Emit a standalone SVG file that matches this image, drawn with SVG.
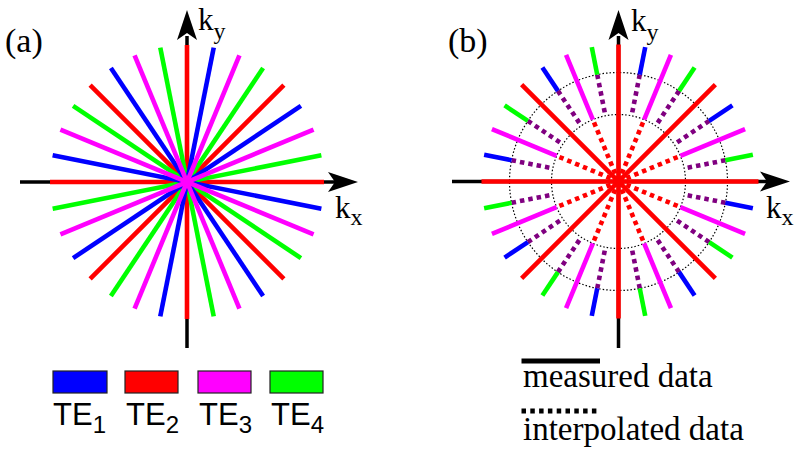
<svg xmlns="http://www.w3.org/2000/svg" width="800" height="459" viewBox="0 0 800 459">
<defs>
<style>
.ax{stroke:#000;stroke-width:3.5;fill:none}
.s{stroke-width:4.6;fill:none;stroke-linecap:butt}
.r{stroke:#ff0000}
.g{stroke:#00ff00}
.m{stroke:#ff00ff}
.b{stroke:#0000ff}
.pd{stroke:#800080;stroke-dasharray:4.5 4}
.rd{stroke:#ff0000;stroke-dasharray:4.5 4}
.circ{fill:none;stroke:#000;stroke-width:1.2;stroke-dasharray:1.5 2}
.serif{font-family:"Liberation Serif","Times New Roman",serif;fill:#000}
.sans{font-family:"Liberation Sans",Arial,sans-serif;fill:#000}
.key{stroke:#222;stroke-width:1.2}
</style>
<path id="arrR" d="M0,0 L-30,-10 L-23,0 L-30,10 Z" fill="#000"/>
</defs>

<!-- Panel (a) -->
<g id="panel-a">
<g id="axes-a">
<line class="ax" x1="20" y1="182" x2="340" y2="182"/>
<line class="ax" x1="187" y1="348" x2="187" y2="36"/>
<use href="#arrR" transform="translate(358,182)"/>
<use href="#arrR" transform="translate(187,10) rotate(-90)"/>
</g>
<g id="spokes-a" transform="translate(187,182)">
<line class="s r" x1="-137" x2="137" transform="rotate(0)"/>
<line class="s r" x1="-137" x2="137" transform="rotate(-45)"/>
<line class="s r" x1="-137" x2="137" transform="rotate(-90)"/>
<line class="s r" x1="-137" x2="137" transform="rotate(-135)"/>
<line class="s g" x1="-137" x2="137" transform="rotate(-11.25)"/>
<line class="s g" x1="-137" x2="137" transform="rotate(-56.25)"/>
<line class="s g" x1="-137" x2="137" transform="rotate(-101.25)"/>
<line class="s g" x1="-137" x2="137" transform="rotate(-146.25)"/>
<line class="s b" x1="-137" x2="137" transform="rotate(-33.75)"/>
<line class="s b" x1="-137" x2="137" transform="rotate(-78.75)"/>
<line class="s b" x1="-137" x2="137" transform="rotate(-123.75)"/>
<line class="s b" x1="-137" x2="137" transform="rotate(-168.75)"/>
<line class="s m" x1="-137" x2="137" transform="rotate(-22.5)"/>
<line class="s m" x1="-137" x2="137" transform="rotate(-67.5)"/>
<line class="s m" x1="-137" x2="137" transform="rotate(-112.5)"/>
<line class="s m" x1="-137" x2="137" transform="rotate(-157.5)"/>
<circle cx="0" cy="0" r="4" fill="#ff00ff"/>
</g>
<text class="serif" x="5" y="52" font-size="34">(a)</text>
<text class="serif" x="198" y="30" font-size="31">k<tspan font-size="24" dy="9">y</tspan></text>
<text class="serif" x="335" y="218" font-size="31">k<tspan font-size="24" dy="7">x</tspan></text>
</g>

<!-- Legend (a) -->
<g id="legend-a">
<g id="key-te1"><rect class="key" x="53" y="371" width="54" height="22" fill="#0000ff"/><text class="sans" x="53" y="425" font-size="31">TE<tspan font-size="24" dy="8">1</tspan></text></g>
<g id="key-te2"><rect class="key" x="125" y="371" width="53" height="22" fill="#ff0000"/><text class="sans" x="126" y="425" font-size="31">TE<tspan font-size="24" dy="8">2</tspan></text></g>
<g id="key-te3"><rect class="key" x="198" y="371" width="53" height="22" fill="#ff00ff"/><text class="sans" x="199" y="425" font-size="31">TE<tspan font-size="24" dy="8">3</tspan></text></g>
<g id="key-te4"><rect class="key" x="270" y="371" width="53" height="22" fill="#00ff00"/><text class="sans" x="271" y="425" font-size="31">TE<tspan font-size="24" dy="8">4</tspan></text></g>
</g>

<!-- Panel (b) -->
<g id="panel-b">
<g id="axes-b">
<line class="ax" x1="452" y1="181.5" x2="772" y2="181.5"/>
<line class="ax" x1="618.5" y1="348" x2="618.5" y2="36"/>
</g>
<g id="circles-b">
<circle class="circ" cx="618.5" cy="181.5" r="109"/>
<circle class="circ" cx="618.5" cy="181.5" r="67"/>
</g>
<g id="spokes-b" transform="translate(618.5,181.5)">
<line class="s r" x1="-137" x2="140" transform="rotate(0)"/>
<line class="s r" x1="-137" x2="137" transform="rotate(-45)"/>
<line class="s r" x1="-137" x2="137" transform="rotate(-90)"/>
<line class="s r" x1="-137" x2="137" transform="rotate(-135)"/>
<g class="s rd">
<line x1="0" x2="67" transform="rotate(-22.5)"/><line x1="0" x2="-67" transform="rotate(-22.5)"/>
<line x1="0" x2="67" transform="rotate(-67.5)"/><line x1="0" x2="-67" transform="rotate(-67.5)"/>
<line x1="0" x2="67" transform="rotate(-112.5)"/><line x1="0" x2="-67" transform="rotate(-112.5)"/>
<line x1="0" x2="67" transform="rotate(-157.5)"/><line x1="0" x2="-67" transform="rotate(-157.5)"/>
</g>
<g class="s m">
<line x1="67" x2="137" transform="rotate(-22.5)"/><line x1="-67" x2="-137" transform="rotate(-22.5)"/>
<line x1="67" x2="137" transform="rotate(-67.5)"/><line x1="-67" x2="-137" transform="rotate(-67.5)"/>
<line x1="67" x2="137" transform="rotate(-112.5)"/><line x1="-67" x2="-137" transform="rotate(-112.5)"/>
<line x1="67" x2="137" transform="rotate(-157.5)"/><line x1="-67" x2="-137" transform="rotate(-157.5)"/>
</g>
<g class="s pd">
<line x1="109" x2="67" transform="rotate(-11.25)"/><line x1="-109" x2="-67" transform="rotate(-11.25)"/>
<line x1="109" x2="67" transform="rotate(-33.75)"/><line x1="-109" x2="-67" transform="rotate(-33.75)"/>
<line x1="109" x2="67" transform="rotate(-56.25)"/><line x1="-109" x2="-67" transform="rotate(-56.25)"/>
<line x1="109" x2="67" transform="rotate(-78.75)"/><line x1="-109" x2="-67" transform="rotate(-78.75)"/>
<line x1="109" x2="67" transform="rotate(-101.25)"/><line x1="-109" x2="-67" transform="rotate(-101.25)"/>
<line x1="109" x2="67" transform="rotate(-123.75)"/><line x1="-109" x2="-67" transform="rotate(-123.75)"/>
<line x1="109" x2="67" transform="rotate(-146.25)"/><line x1="-109" x2="-67" transform="rotate(-146.25)"/>
<line x1="109" x2="67" transform="rotate(-168.75)"/><line x1="-109" x2="-67" transform="rotate(-168.75)"/>
</g>
<g class="s g">
<line x1="109" x2="137" transform="rotate(-11.25)"/><line x1="-109" x2="-137" transform="rotate(-11.25)"/>
<line x1="109" x2="137" transform="rotate(-56.25)"/><line x1="-109" x2="-137" transform="rotate(-56.25)"/>
<line x1="109" x2="137" transform="rotate(-101.25)"/><line x1="-109" x2="-137" transform="rotate(-101.25)"/>
<line x1="109" x2="137" transform="rotate(-146.25)"/><line x1="-109" x2="-137" transform="rotate(-146.25)"/>
</g>
<g class="s b">
<line x1="109" x2="137" transform="rotate(-33.75)"/><line x1="-109" x2="-137" transform="rotate(-33.75)"/>
<line x1="109" x2="137" transform="rotate(-78.75)"/><line x1="-109" x2="-137" transform="rotate(-78.75)"/>
<line x1="109" x2="137" transform="rotate(-123.75)"/><line x1="-109" x2="-137" transform="rotate(-123.75)"/>
<line x1="109" x2="137" transform="rotate(-168.75)"/><line x1="-109" x2="-137" transform="rotate(-168.75)"/>
</g>
<circle cx="0" cy="0" r="6" fill="#ff0000"/>
</g>
<use href="#arrR" transform="translate(790,181.5)"/>
<use href="#arrR" transform="translate(618.5,10) rotate(-90)"/>
<text class="serif" x="448" y="52" font-size="34">(b)</text>
<text class="serif" x="631" y="31" font-size="31">k<tspan font-size="24" dy="9">y</tspan></text>
<text class="serif" x="766" y="218" font-size="31">k<tspan font-size="24" dy="7">x</tspan></text>
</g>

<!-- Legend (b) -->
<g id="legend-b">
<g id="key-measured"><line x1="521.5" y1="361" x2="600" y2="361" stroke="#000" stroke-width="5"/><text class="serif" x="523" y="387" font-size="33">measured data</text></g>
<g id="key-interpolated"><line x1="521.5" y1="411" x2="600" y2="411" stroke="#000" stroke-width="5" stroke-dasharray="4.5 4.3"/><text class="serif" x="523" y="440" font-size="33">interpolated data</text></g>
</g>
</svg>
